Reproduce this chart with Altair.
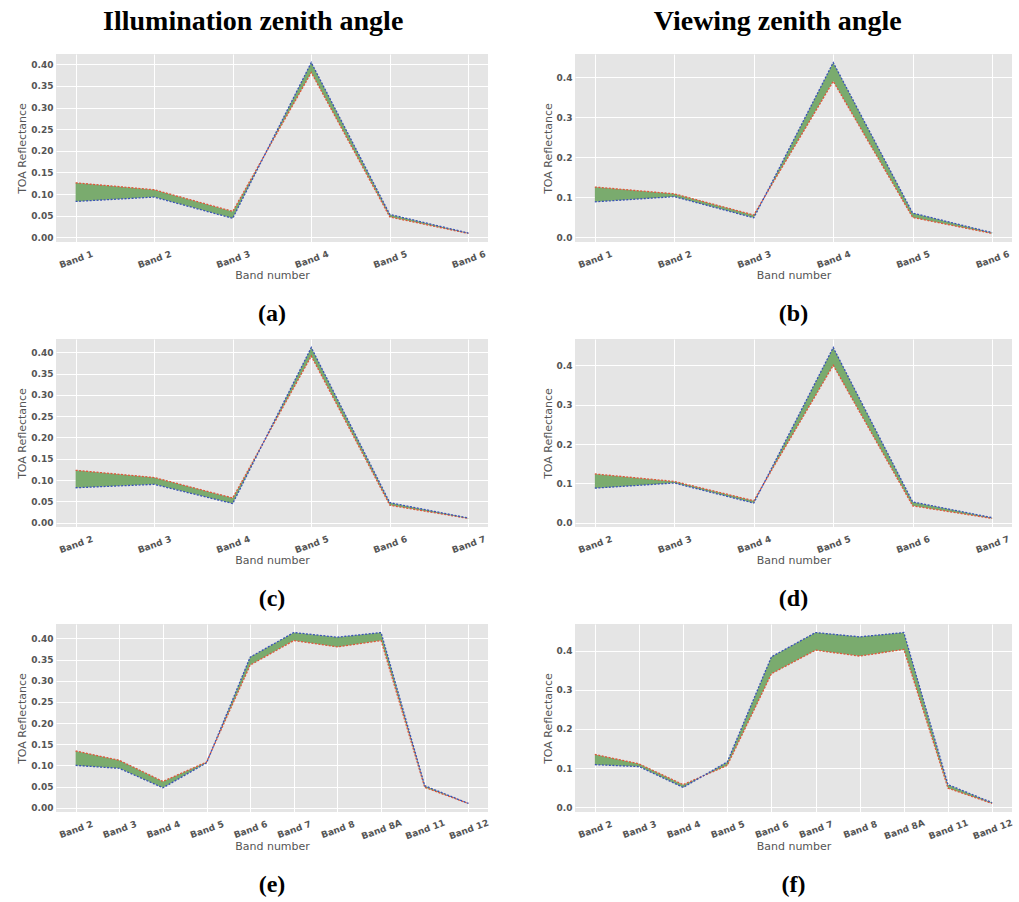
import altair as alt
import pandas as pd

# ---------------- data ----------------
bands_a = ["Band 1", "Band 2", "Band 3", "Band 4", "Band 5", "Band 6"]
red_a = [0.126, 0.110, 0.060, 0.381, 0.047, 0.009]
blue_a = [0.083, 0.093, 0.044, 0.404, 0.053, 0.010]

bands_b = ["Band 1", "Band 2", "Band 3", "Band 4", "Band 5", "Band 6"]
red_b = [0.126, 0.109, 0.056, 0.390, 0.050, 0.010]
blue_b = [0.089, 0.102, 0.049, 0.437, 0.061, 0.012]

bands_c = ["Band 2", "Band 3", "Band 4", "Band 5", "Band 6", "Band 7"]
red_c = [0.123, 0.106, 0.058, 0.391, 0.041, 0.010]
blue_c = [0.082, 0.090, 0.045, 0.411, 0.047, 0.011]

bands_d = ["Band 2", "Band 3", "Band 4", "Band 5", "Band 6", "Band 7"]
red_d = [0.124, 0.105, 0.056, 0.400, 0.043, 0.011]
blue_d = [0.088, 0.101, 0.050, 0.445, 0.053, 0.013]

bands_e = ["Band 2", "Band 3", "Band 4", "Band 5", "Band 6", "Band 7",
           "Band 8", "Band 8A", "Band 11", "Band 12"]
red_e = [0.134, 0.112, 0.062, 0.108, 0.337, 0.395, 0.380, 0.395, 0.048, 0.010]
blue_e = [0.100, 0.093, 0.047, 0.106, 0.356, 0.414, 0.403, 0.414, 0.052, 0.010]

bands_f = ["Band 2", "Band 3", "Band 4", "Band 5", "Band 6", "Band 7",
           "Band 8", "Band 8A", "Band 11", "Band 12"]
red_f = [0.135, 0.111, 0.058, 0.107, 0.341, 0.401, 0.386, 0.403, 0.049, 0.010]
blue_f = [0.109, 0.104, 0.051, 0.116, 0.384, 0.446, 0.435, 0.446, 0.058, 0.012]

ticks_left = [0.00, 0.05, 0.10, 0.15, 0.20, 0.25, 0.30, 0.35, 0.40]
ticks_right = [0.0, 0.1, 0.2, 0.3, 0.4]

GREEN = "#7aab6e"
RED = "#e0553a"
BLUE = "#3a52b8"
GREY = "#555555"
SERIF = "Liberation Serif"
SANS = "DejaVu Sans"


def panel(bands, red, blue, caption, width, yticks, yfmt):
    df = pd.DataFrame({"band": bands, "red": red, "blue": blue})
    lo = min(red + blue)
    hi = max(red + blue)
    m = 0.05 * (hi - lo)
    xenc = alt.X(
        "band:O",
        sort=bands,
        scale=alt.Scale(type="point", padding=0.05 * (len(bands) - 1)),
        axis=alt.Axis(title="Band number", labelAngle=340, labelAlign="center",
                      labelBaseline="middle", labelPadding=17, titlePadding=0),
    )
    yscale = alt.Scale(domain=[lo - m, hi + m], nice=False, zero=False)

    def yenc(field):
        return alt.Y(f"{field}:Q", scale=yscale,
                     axis=alt.Axis(title="TOA Reflectance", values=yticks, format=yfmt,
                                   labelPadding=3, titlePadding=3))

    base = alt.Chart(df)
    area = base.mark_area(color=GREEN, opacity=1).encode(x=xenc, y=yenc("red"), y2="blue:Q")
    lr = base.mark_line(color=RED, strokeWidth=1.3, strokeDash=[2, 1.5]).encode(x=xenc, y=yenc("red"))
    lb = base.mark_line(color=BLUE, strokeWidth=1.3, strokeDash=[2, 1.5]).encode(x=xenc, y=yenc("blue"))
    return alt.layer(area, lr, lb).properties(
        width=width, height=188,
        title=alt.TitleParams(caption, orient="bottom", anchor="middle", font=SERIF,
                              fontSize=24, fontWeight="bold", color="black", offset=21),
    )


pa = panel(bands_a, red_a, blue_a, "(a)", 432, ticks_left, ".2f")
pb = panel(bands_b, red_b, blue_b, "(b)", 437, ticks_right, ".1f")
pc = panel(bands_c, red_c, blue_c, "(c)", 432, ticks_left, ".2f")
pd_ = panel(bands_d, red_d, blue_d, "(d)", 437, ticks_right, ".1f")
pe = panel(bands_e, red_e, blue_e, "(e)", 432, ticks_left, ".2f")
pf = panel(bands_f, red_f, blue_f, "(f)", 437, ticks_right, ".1f")


def col_title(t):
    return alt.TitleParams(t, anchor="middle", font=SERIF, fontSize=28, fontWeight="bold",
                           color="black", offset=18)


left = alt.vconcat(pa, pc, pe, spacing=13, title=col_title("Illumination zenith angle"))
right = alt.vconcat(pb, pd_, pf, spacing=13, title=col_title("Viewing zenith angle"))

chart = alt.hconcat(left, right, spacing=52).properties(
    padding={"left": 16, "top": 8, "right": 0, "bottom": 0},
    background="white",
).configure_view(
    fill="#e5e5e5", stroke=None
).configure_axis(
    grid=True, gridColor="white", gridWidth=1, gridOpacity=1,
    domain=False, ticks=False,
    labelFont=SANS, labelFontWeight="bold", labelFontSize=9, labelColor=GREY,
    titleFont=SANS, titleFontWeight="normal", titleFontSize=11, titleColor=GREY,
)

chart.save("out.html", embed_options={"renderer": "svg", "actions": False})
